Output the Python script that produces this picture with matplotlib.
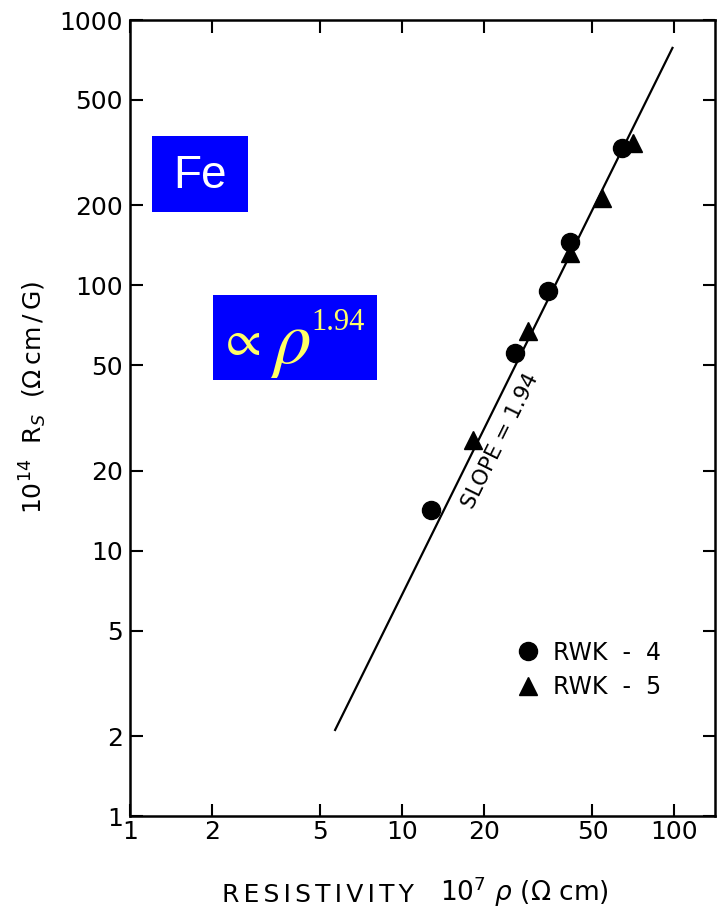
import numpy as np
import matplotlib.pyplot as plt
from matplotlib.patches import Rectangle
from matplotlib.ticker import FixedLocator, FixedFormatter, NullLocator

# data
rwk4_rho = [12.8, 26.0, 34.4, 41.5, 64.4]
rwk4_rs = [14.2, 55.6, 95.3, 146.0, 330.0]
rwk5_rho = [18.2, 29.1, 41.5, 54.4, 70.7]
rwk5_rs = [26.1, 67.3, 132.5, 213.0, 344.0]
fit_rho = [5.67, 98.4]
fit_rs = [2.11, 785.0]

xticks = [1, 2, 5, 10, 20, 50, 100]
yticks = [1, 2, 5, 10, 20, 50, 100, 200, 500, 1000]

plt.rcParams['font.family'] = ['DejaVu Sans']
W, H = 718, 909
fig = plt.figure(figsize=(W/100, H/100), dpi=100)
ax = fig.add_axes([130/W, 1-816/H, 585/W, 796/H])

ax.plot(fit_rho, fit_rs, 'k-', lw=1.6)
ax.plot(rwk4_rho, rwk4_rs, 'ko', ms=13, ls='none', label='RWK  -  4')
ax.plot(rwk5_rho, rwk5_rs, 'k^', ms=13, ls='none', label='RWK  -  5')

ax.set_xscale('log')
ax.set_yscale('log')
ax.set_xlim(1, 141)
ax.set_ylim(1, 1000)
ax.xaxis.set_major_locator(FixedLocator(xticks))
ax.xaxis.set_major_formatter(FixedFormatter([str(v) for v in xticks]))
ax.yaxis.set_major_locator(FixedLocator(yticks))
ax.yaxis.set_major_formatter(FixedFormatter([str(v) for v in yticks]))
ax.xaxis.set_minor_locator(NullLocator())
ax.yaxis.set_minor_locator(NullLocator())
ax.tick_params(direction='in', length=9, width=1.5, top=True, right=True,
               labelsize=18)
ax.tick_params(axis='x', pad=3)
ax.tick_params(axis='y', pad=5)
for s in ax.spines.values():
    s.set_linewidth(1.8)

# axis labels
sp = '\u2006'
fig.text(222/W, 1-895/H, sp.join('RESISTIVITY'), fontsize=18, ha='left', va='center')
fig.text(440/W, 1-892/H, r'10$^7$ $\rho$ ($\Omega$ cm)', fontsize=19, ha='left', va='center')
fig.text(33/W, 1-397/H, '10$^{14}$  R$_S$  ($\\Omega$' + sp + 'cm' + sp + '/' + sp + 'G)',
         fontsize=18, rotation=90, ha='center', va='center')

ax.text(500, H-441, 'SLOPE = 1.94', transform=None, fontsize=15.5,
        rotation=63.7, ha='center', va='center')

ax.legend(loc='center left', bbox_to_anchor=((514-130)/585, (816-670)/796),
          frameon=False, fontsize=17, handletextpad=0.45, labelspacing=0.45,
          handlelength=1.2, borderpad=0, borderaxespad=0)

# blue label boxes
fig.patches.append(Rectangle((152/W, 1-212/H), 96/W, 76/H, transform=fig.transFigure,
                             fc='#0000ff', ec='none'))
fig.text(200/W, 1-176/H, 'Fe', color='white', fontsize=33,
         ha='center', va='center', fontfamily='Liberation Sans')
fig.patches.append(Rectangle((213/W, 1-380/H), 164/W, 85/H, transform=fig.transFigure,
                             fc='#0000ff', ec='none'))
yel = '#ffff66'
fig.text(239/W, 1-341/H, r'$\propto$', color=yel, fontsize=37,
         ha='center', va='center', math_fontfamily='stix')
fig.text(290/W, 1-343/H, r'$\rho$', color=yel, fontsize=54,
         ha='center', va='center', math_fontfamily='stix')
fig.text(311/W, 1-323/H, '1.94', color=yel, fontsize=22,
         ha='left', va='center', fontfamily='Liberation Serif')

fig.savefig('out.png', dpi=100)
